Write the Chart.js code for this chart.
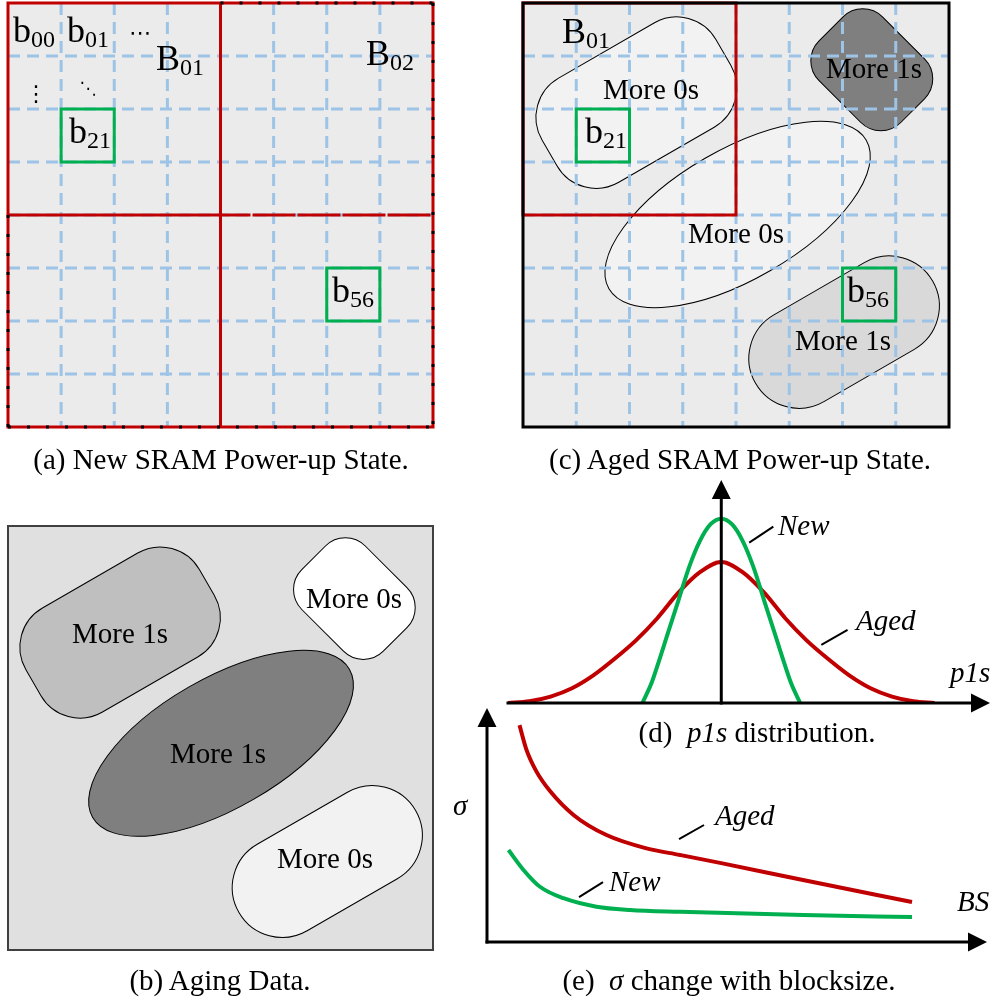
<!DOCTYPE html>
<html>
<head>
<meta charset="utf-8">
<script src="https://cdn.jsdelivr.net/npm/chart.js@4.4.0/dist/chart.umd.min.js"></script>
<style>
  html, body { margin: 0; padding: 0; background: #fff; }
  #stage { position: relative; width: 996px; height: 999px; overflow: hidden; }
  #stage canvas { position: absolute; left: 0; top: 0; }
  #labels { position: absolute; left: 0; top: 0; width: 996px; height: 999px; }
  .t { position: absolute; white-space: nowrap; line-height: 1; color: #000;
       font-family: "Liberation Serif", "Times New Roman", serif; }
  .t sub { font-size: 0.667em; vertical-align: -5px; line-height: 0; }
</style>
</head>
<body>
<div id="stage">
  <canvas id="chartA" width="996" height="999"></canvas>
  <canvas id="chartB" width="996" height="999"></canvas>
  <canvas id="chartC" width="996" height="999"></canvas>
  <canvas id="chartD" width="996" height="999"></canvas>
  <canvas id="chartE" width="996" height="999"></canvas>
  <div id="labels"></div>
</div>
<script>
// (a)/(c): SRAM array, 8x8 cells grouped into 4x4 blocks
const cellCount = 8;
const blockCells = 4;
const markedCellRows = [2, 5];
const markedCellCols = [1, 6];

// (b)/(c): biased regions, in cell units (TL, middle ellipse, TR, BR)
const regionShape = ["round", "ellipse", "round", "round"];
const regionW = [3.77, 5.58, 2.17, 3.84];
const regionH = [2.26, 2.44, 1.69, 1.88];
const regionCorner = [0.85, 0, 0.53, 0.94];
const regionAngle = [-30, -30, 45, -30];
const agingRegionX = [2.11, 4.01, 6.52, 6.01];
const agingRegionY = [2.01, 4.10, 1.37, 6.33];
const agingRegionLabel = ["More 1s", "More 1s", "More 0s", "More 0s"];
const agedRegionX = [2.13, 4.03, 6.55, 6.03];
const agedRegionY = [1.88, 3.99, 1.26, 6.21];
const agedRegionLabel = ["More 0s", "More 0s", "More 1s", "More 1s"];

// (d): p1s distribution
const p1sAgedX = [-10, -9, -8, -7, -6, -5, -4, -3, -2, -1, 0, 1, 2, 3, 4, 5, 6, 7, 8, 9, 10];
const p1sAged = [0, 0.01, 0.035, 0.08, 0.15, 0.24, 0.34, 0.46, 0.6, 0.71, 0.765, 0.71, 0.6, 0.46, 0.34, 0.24, 0.15, 0.08, 0.035, 0.01, 0];
const p1sNewX = [-3.7, -3.3, -3, -2.5, -2, -1.5, -1, -0.5, 0, 0.5, 1, 1.5, 2, 2.5, 3, 3.3, 3.7];
const p1sNew = [0, 0.1, 0.2, 0.38, 0.56, 0.74, 0.88, 0.97, 1, 0.97, 0.88, 0.74, 0.56, 0.38, 0.2, 0.1, 0];

// (e): sigma vs block size
const bsAgedX = [6.5, 7.9, 9.9, 12.6, 17.3, 23.9, 31.9, 38.6, 46.6, 63.2, 85];
const sigmaAged = [92.7, 82.1, 72.8, 64.5, 54.3, 45.7, 40, 37.2, 33.8, 26.5, 17.1];
const bsNewX = [4.3, 7.3, 10.6, 15.3, 21.9, 28.6, 38.6, 63.2, 85];
const sigmaNew = [39.3, 30.8, 23.6, 18.7, 15.1, 13.7, 12.9, 11.5, 10.7];

// leader lines next to the curve names (x0, y0, x1, y1 in data units)
const p1sLeaders = [[1.31, 0.87, 2.44, 0.957], [4.69, 0.315, 5.92, 0.397]];
const sigmaLeaders = [[38.4, 44, 43.4, 50], [18.4, 19.2, 23.2, 25.6]];

const RED = "#c00000";
const GREEN = "#00b050";
const BLUE = "#9dc3e6";
const agingFills = ["#bfbfbf", "#7f7f7f", "#ffffff", "#f2f2f2"];
const agedFills = ["#f2f2f2", "#f2f2f2", "#7f7f7f", "#d9d9d9"];

function cellSize(chart) {
    return chart.scales.x.getPixelForValue(1) - chart.scales.x.getPixelForValue(0);
}

function cellRect(chart, c0, r0, c1, r1) {
    const sx = chart.scales.x, sy = chart.scales.y;
    const x0 = sx.getPixelForValue(c0), y0 = sy.getPixelForValue(r0);
    return [x0, y0, sx.getPixelForValue(c1) - x0, sy.getPixelForValue(r1) - y0];
}

function roundRectPath(ctx, x, y, w, h, r) {
    ctx.moveTo(x + r, y);
    ctx.lineTo(x + w - r, y);
    ctx.arcTo(x + w, y, x + w, y + r, r);
    ctx.lineTo(x + w, y + h - r);
    ctx.arcTo(x + w, y + h, x + w - r, y + h, r);
    ctx.lineTo(x + r, y + h);
    ctx.arcTo(x, y + h, x, y + h - r, r);
    ctx.lineTo(x, y + r);
    ctx.arcTo(x, y, x + r, y, r);
    ctx.closePath();
}

function fillPanel(chart, color) {
    const a = chart.chartArea;
    chart.ctx.fillStyle = color;
    chart.ctx.fillRect(a.left, a.top, a.right - a.left, a.bottom - a.top);
}

function drawRegions(chart, xs, ys, fills) {
    const ctx = chart.ctx, u = cellSize(chart);
    xs.forEach((cx, i) => {
        const w = regionW[i] * u, h = regionH[i] * u;
        ctx.save();
        ctx.translate(chart.scales.x.getPixelForValue(cx), chart.scales.y.getPixelForValue(ys[i]));
        ctx.rotate(regionAngle[i] * Math.PI / 180);
        ctx.beginPath();
        if (regionShape[i] === "ellipse") ctx.ellipse(0, 0, w / 2, h / 2, 0, 0, Math.PI * 2);
        else roundRectPath(ctx, -w / 2, -h / 2, w, h, regionCorner[i] * u);
        ctx.fillStyle = fills[i];
        ctx.fill();
        ctx.lineWidth = 1;
        ctx.strokeStyle = "#000";
        ctx.stroke();
        ctx.restore();
    });
}

function drawCellGrid(chart) {
    const ctx = chart.ctx, a = chart.chartArea;
    ctx.save();
    ctx.strokeStyle = BLUE;
    ctx.lineWidth = 3;
    ctx.setLineDash([12, 7]);
    for (let i = 1; i < cellCount; i++) {
        const x = chart.scales.x.getPixelForValue(i);
        const y = chart.scales.y.getPixelForValue(i);
        ctx.beginPath(); ctx.moveTo(x, a.top); ctx.lineTo(x, a.bottom); ctx.stroke();
        ctx.beginPath(); ctx.moveTo(a.left, y); ctx.lineTo(a.right, y); ctx.stroke();
    }
    ctx.restore();
}

function drawMarkedCells(chart) {
    const ctx = chart.ctx;
    ctx.save();
    ctx.strokeStyle = GREEN;
    ctx.lineWidth = 3;
    markedCellRows.forEach((r, i) => {
        const c = markedCellCols[i];
        ctx.strokeRect(...cellRect(chart, c, r, c + 1, r + 1));
    });
    ctx.restore();
}

function line(ctx, x0, y0, x1, y1) {
    ctx.beginPath(); ctx.moveTo(x0, y0); ctx.lineTo(x1, y1); ctx.stroke();
}

function drawNewArray(chart) {
    const ctx = chart.ctx, sx = chart.scales.x, sy = chart.scales.y;
    const x0 = sx.getPixelForValue(0), x1 = sx.getPixelForValue(cellCount), xm = sx.getPixelForValue(blockCells);
    const y0 = sy.getPixelForValue(0), y1 = sy.getPixelForValue(cellCount), ym = sy.getPixelForValue(blockCells);
    ctx.save();
    fillPanel(chart, "#ebebeb");
    drawCellGrid(chart);
    ctx.strokeStyle = RED;
    ctx.lineWidth = 3;
    ctx.strokeRect(x0, y0, x1 - x0, y1 - y0);
    line(ctx, xm, y0, xm, y1);
    line(ctx, x0, ym, xm, ym);
    ctx.setLineDash([43, 2]);
    ctx.lineDashOffset = -32;
    line(ctx, xm, ym, x1, ym);
    // black dashes peeking through the outer block borders
    ctx.strokeStyle = "#000";
    ctx.setLineDash([3, 16]);
    ctx.lineDashOffset = 0;
    line(ctx, xm, y0, x1, y0);
    line(ctx, x1, y0, x1, y1);
    line(ctx, x0, y1, x1, y1);
    line(ctx, x0, ym, x0, y1);
    ctx.restore();
    drawMarkedCells(chart);
}

function drawAgingData(chart) {
    const a = chart.chartArea, ctx = chart.ctx;
    fillPanel(chart, "#e0e0e0");
    drawRegions(chart, agingRegionX, agingRegionY, agingFills);
    ctx.save();
    ctx.strokeStyle = "#404040";
    ctx.lineWidth = 2;
    ctx.strokeRect(a.left, a.top, a.right - a.left, a.bottom - a.top);
    ctx.restore();
}

function drawAgedArray(chart) {
    const a = chart.chartArea, ctx = chart.ctx;
    fillPanel(chart, "#ebebeb");
    drawRegions(chart, agedRegionX, agedRegionY, agedFills);
    drawCellGrid(chart);
    ctx.save();
    ctx.strokeStyle = RED;
    ctx.lineWidth = 3;
    ctx.strokeRect(...cellRect(chart, 0, 0, blockCells, blockCells));
    ctx.restore();
    drawMarkedCells(chart);
    ctx.save();
    ctx.strokeStyle = "#000";
    ctx.lineWidth = 3;
    ctx.strokeRect(a.left, a.top, a.right - a.left, a.bottom - a.top);
    ctx.restore();
}

function arrowAxes(chart, ox, oy, leaders) {
    const ctx = chart.ctx, a = chart.chartArea;
    ctx.save();
    ctx.strokeStyle = "#000";
    ctx.fillStyle = "#000";
    ctx.lineWidth = 2;
    leaders.forEach(l => line(ctx,
        chart.scales.x.getPixelForValue(l[0]), chart.scales.y.getPixelForValue(l[1]),
        chart.scales.x.getPixelForValue(l[2]), chart.scales.y.getPixelForValue(l[3])));
    ctx.lineWidth = 3;
    line(ctx, a.left - 1.5, oy, a.right - 12, oy);
    line(ctx, ox, a.bottom + 1.5, ox, a.top + 12);
    ctx.beginPath();
    ctx.moveTo(a.right, oy); ctx.lineTo(a.right - 19, oy - 9.5); ctx.lineTo(a.right - 19, oy + 9.5); ctx.closePath();
    ctx.moveTo(ox, a.top); ctx.lineTo(ox - 9.5, a.top + 19); ctx.lineTo(ox + 9.5, a.top + 19); ctx.closePath();
    ctx.fill();
    ctx.restore();
}

const baseOptions = {
    responsive: false,
    animation: false,
    events: [],
    devicePixelRatio: 1,
    plugins: { legend: { display: false }, tooltip: { enabled: false } }
};

function arrayChart(id, padding, draw, points) {
    return new Chart(document.getElementById(id).getContext("2d"), {
        type: "scatter",
        data: { datasets: [{ data: points, pointRadius: 0 }] },
        options: {
            ...baseOptions,
            layout: { padding: padding },
            scales: {
                x: { type: "linear", display: false, min: 0, max: cellCount },
                y: { type: "linear", display: false, min: 0, max: cellCount, reverse: true }
            }
        },
        plugins: [{ id: id + "Panel", beforeDatasetsDraw: draw }]
    });
}

const markedPoints = markedCellRows.map((r, i) => ({ x: markedCellCols[i] + 0.5, y: r + 0.5 }));
arrayChart("chartA", { left: 8, top: 3, right: 563, bottom: 572 }, drawNewArray, markedPoints);
arrayChart("chartB", { left: 8, top: 526, right: 563, bottom: 49 }, drawAgingData,
    agingRegionX.map((x, i) => ({ x: x, y: agingRegionY[i] })));
arrayChart("chartC", { left: 523, top: 3, right: 47, bottom: 572 }, drawAgedArray, markedPoints);

function curve(label, xs, ys, color) {
    return {
        label: label,
        data: xs.map((x, i) => ({ x: x, y: ys[i] })),
        showLine: true,
        borderColor: color,
        borderWidth: 4,
        pointRadius: 0,
        fill: false,
        cubicInterpolationMode: "monotone"
    };
}

new Chart(document.getElementById("chartD").getContext("2d"), {
    type: "scatter",
    data: {
        datasets: [
            curve("New", p1sNewX, p1sNew, GREEN),
            curve("Aged", p1sAgedX, p1sAged, RED)
        ]
    },
    options: {
        ...baseOptions,
        layout: { padding: { left: 508, top: 480, right: 6, bottom: 296 } },
        scales: {
            x: { type: "linear", display: false, min: -10, max: 12.6 },
            y: { type: "linear", display: false, min: 0, max: 1.21 }
        }
    },
    plugins: [{
        id: "p1sAxes",
        afterDatasetsDraw(chart) {
            arrowAxes(chart, chart.scales.x.getPixelForValue(0), chart.scales.y.getPixelForValue(0), p1sLeaders);
        }
    }]
});

new Chart(document.getElementById("chartE").getContext("2d"), {
    type: "scatter",
    data: {
        datasets: [
            curve("Aged", bsAgedX, sigmaAged, RED),
            curve("New", bsNewX, sigmaNew, GREEN)
        ]
    },
    options: {
        ...baseOptions,
        layout: { padding: { left: 487, top: 708, right: 9, bottom: 57 } },
        scales: {
            x: { type: "linear", display: false, min: 0, max: 100 },
            y: { type: "linear", display: false, min: 0, max: 100 }
        }
    },
    plugins: [{
        id: "sigmaAxes",
        afterDatasetsDraw(chart) {
            arrowAxes(chart, chart.chartArea.left, chart.chartArea.bottom, sigmaLeaders);
        }
    }]
});

// text layer
function put(html, x, base, size, opts) {
    opts = opts || {};
    const el = document.createElement("div");
    el.className = "t";
    el.innerHTML = html;
    el.style.fontSize = size + "px";
    el.style.left = x + "px";
    el.style.top = (base - 0.8375 * size) + "px";
    if (opts.center) el.style.transform = "translateX(-50%)";
    if (opts.italic) el.style.fontStyle = "italic";
    if (opts.family) el.style.fontFamily = opts.family;
    document.getElementById("labels").appendChild(el);
}

const F = 29;
// (a)
put("b<sub>00</sub>", 13, 42, 36);
put("b<sub>01</sub>", 67, 42, 36);
put("\u22EF", 129, 40, 22, { family: "DejaVu Sans" });
put("\u22EE", 36, 101, 22, { family: "DejaVu Sans", center: true });
put("\u22F1", 88, 94, 17, { family: "DejaVu Sans", center: true });
put("B<sub>01</sub>", 156, 70, 36);
put("b<sub>21</sub>", 69, 143, 36);
put("B<sub>02</sub>", 366, 65, 36);
put("b<sub>56</sub>", 332, 302, 36);
put("(a) New SRAM Power-up State.", 221, 469, F, { center: true });
// (c)
put("B<sub>01</sub>", 562, 43, 36);
put("b<sub>21</sub>", 585, 143, 36);
put("b<sub>56</sub>", 847, 302, 36);
put(agedRegionLabel[0], 651, 99, F, { center: true });
put(agedRegionLabel[1], 736, 243, F, { center: true });
put(agedRegionLabel[2], 874, 78, F, { center: true });
put(agedRegionLabel[3], 843, 350, F, { center: true });
put("(c) Aged SRAM Power-up State.", 740, 469, F, { center: true });
// (b)
put(agingRegionLabel[0], 120, 643, F, { center: true });
put(agingRegionLabel[1], 218, 763, F, { center: true });
put(agingRegionLabel[2], 354, 608, F, { center: true });
put(agingRegionLabel[3], 325, 868, F, { center: true });
put("(b) Aging Data.", 220, 990, F, { center: true });
// (d)
put("New", 778, 535, F, { italic: true });
put("Aged", 856, 630, F, { italic: true });
put("p1s", 950, 682, F, { italic: true });
put("(d)&nbsp;&nbsp;<i>p1s</i> distribution.", 757, 742, F, { center: true });
// (e)
put("Aged", 715, 825, F, { italic: true });
put("New", 609, 891, F, { italic: true });
put("BS", 957, 911, F, { italic: true });
put("\u03C3", 453, 815, F, { italic: true });
put("(e)&nbsp;&nbsp;<i>\u03C3</i> change with blocksize.", 729, 990, F, { center: true });
</script>
</body>
</html>
